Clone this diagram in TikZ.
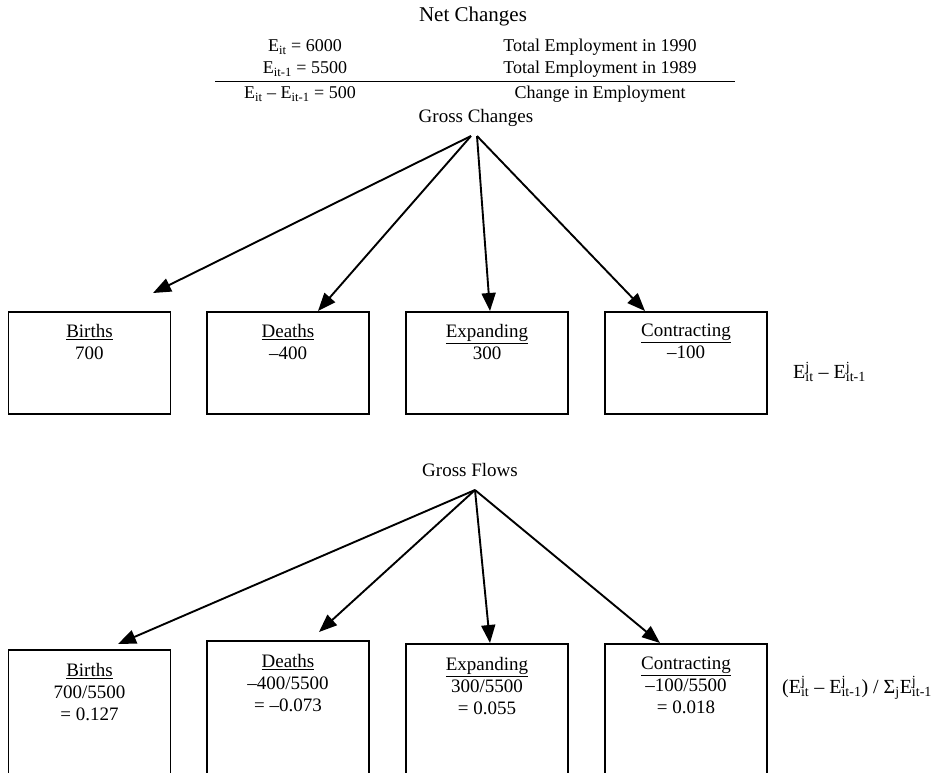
\documentclass[tikz,border=0pt]{standalone}
\usepackage{fontspec}
\setmainfont{Liberation Serif}
\usetikzlibrary{arrows.meta,positioning}

\newcommand{\Esub}[1]{E\textsubscript{#1}}
\newcommand{\Ejsub}[1]{E\rlap{\textsuperscript{j}}\textsubscript{#1}}

\tikzset{
  box/.style={draw, line width=1.7pt, minimum width=162pt, anchor=north, inner sep=0pt},
  btext/.style={font=\fontsize{19}{22}\selectfont, align=center, anchor=north, inner sep=0pt},
  head/.style={font=\fontsize{19}{22}\selectfont, inner sep=0pt},
  row/.style={font=\fontsize{18}{20}\selectfont, inner sep=0pt},
  flow/.style={line width=1.9pt, -{Triangle[length=18pt,width=14pt]}},
}

\begin{document}
\begin{tikzpicture}[x=1pt, y=-1pt]
    \path[use as bounding box, clip] (0,0) rectangle (948,772);

    % Net changes
    \node[head, font=\fontsize{21}{24}\selectfont] (net) at (473,16) {Net Changes};
    \node[row] (e1) at (305,47) {\Esub{it} = 6000};
    \node[row] (t1) at (600,47) {Total Employment in 1990};
    \node[row] (e2) at (305,69) {\Esub{it-1} = 5500};
    \node[row] (t2) at (600,69) {Total Employment in 1989};
    \coordinate (ruleL) at (215,81);
    \coordinate (ruleR) at (735,81);
    \draw[line width=1pt] (ruleL) -- (ruleR);
    \node[row] (e3) at (300,94) {\Esub{it} -- \Esub{it-1} = 500};
    \node[row] (t3) at (600,94) {Change in Employment};

    % Gross changes
    \node[head] (gc) at (476,118) {Gross Changes};
    \coordinate (gcA) at (471,136);
    \coordinate (gcB) at (477,136);

    \node[box, minimum height=102pt] (cb) at (89.5,311) {};
    \node[box, minimum height=102pt] (cd) at (288,311) {};
    \node[box, minimum height=102pt] (ce) at (487,311) {};
    \node[box, minimum height=102pt] (cc) at (686,311) {};

    \node[btext, below=13pt of cb.north] {\underline{Births}\\700};
    \node[btext, below=13pt of cd.north] {\underline{Deaths}\\--400};
    \node[btext, below=13pt of ce.north] {\underline{Expanding}\\300};
    \node[btext, below=13pt of cc.north] {\underline{Contracting}\\--100};

    \coordinate (cbTip) at (153,293);
    \draw[flow] (gcA) -- (cbTip);
    \draw[flow] (gcA) -- (cd.north -| 318,0);
    \draw[flow] (gcB) -- (ce.north -| 490,0);
    \draw[flow] (gcB) -- (cc.north -| 645,0);

    \node[row, font=\fontsize{20}{22}\selectfont, anchor=west] (cform) at (793,372)
        {\Ejsub{it} -- \Ejsub{it-1}};

    % Gross flows
    \node[head] (gf) at (470,470) {Gross Flows};
    \coordinate (gfA) at (475,490);

    \node[box, minimum height=160pt] (fb) at (89.5,649) {};
    \node[box, minimum height=160pt] (fd) at (288,640) {};
    \node[box, minimum height=160pt] (fe) at (487,643) {};
    \node[box, minimum height=160pt] (fc) at (686,643) {};

    \node[btext, below=14pt of fb.north] {\underline{Births}\\700/5500\\= 0.127};
    \node[btext, below=14pt of fd.north] {\underline{Deaths}\\--400/5500\\= --0.073};
    \node[btext, below=14pt of fe.north] {\underline{Expanding}\\300/5500\\= 0.055};
    \node[btext, below=14pt of fc.north] {\underline{Contracting}\\--100/5500\\= 0.018};

    \coordinate (fbTip) at (118,644);
    \coordinate (fdTip) at (319,632);
    \draw[flow] (gfA) -- (fbTip);
    \draw[flow] (gfA) -- (fdTip);
    \draw[flow] (gfA) -- (fe.north -| 490,0);
    \draw[flow] (gfA) -- (fc.north -| 660,0);

    \node[row, font=\fontsize{20}{22}\selectfont, anchor=west] (fform) at (782,688)
        {(\Ejsub{it} -- \Ejsub{it-1}) / Σ\textsubscript{j}\Ejsub{it-1}};
\end{tikzpicture}
\end{document}
